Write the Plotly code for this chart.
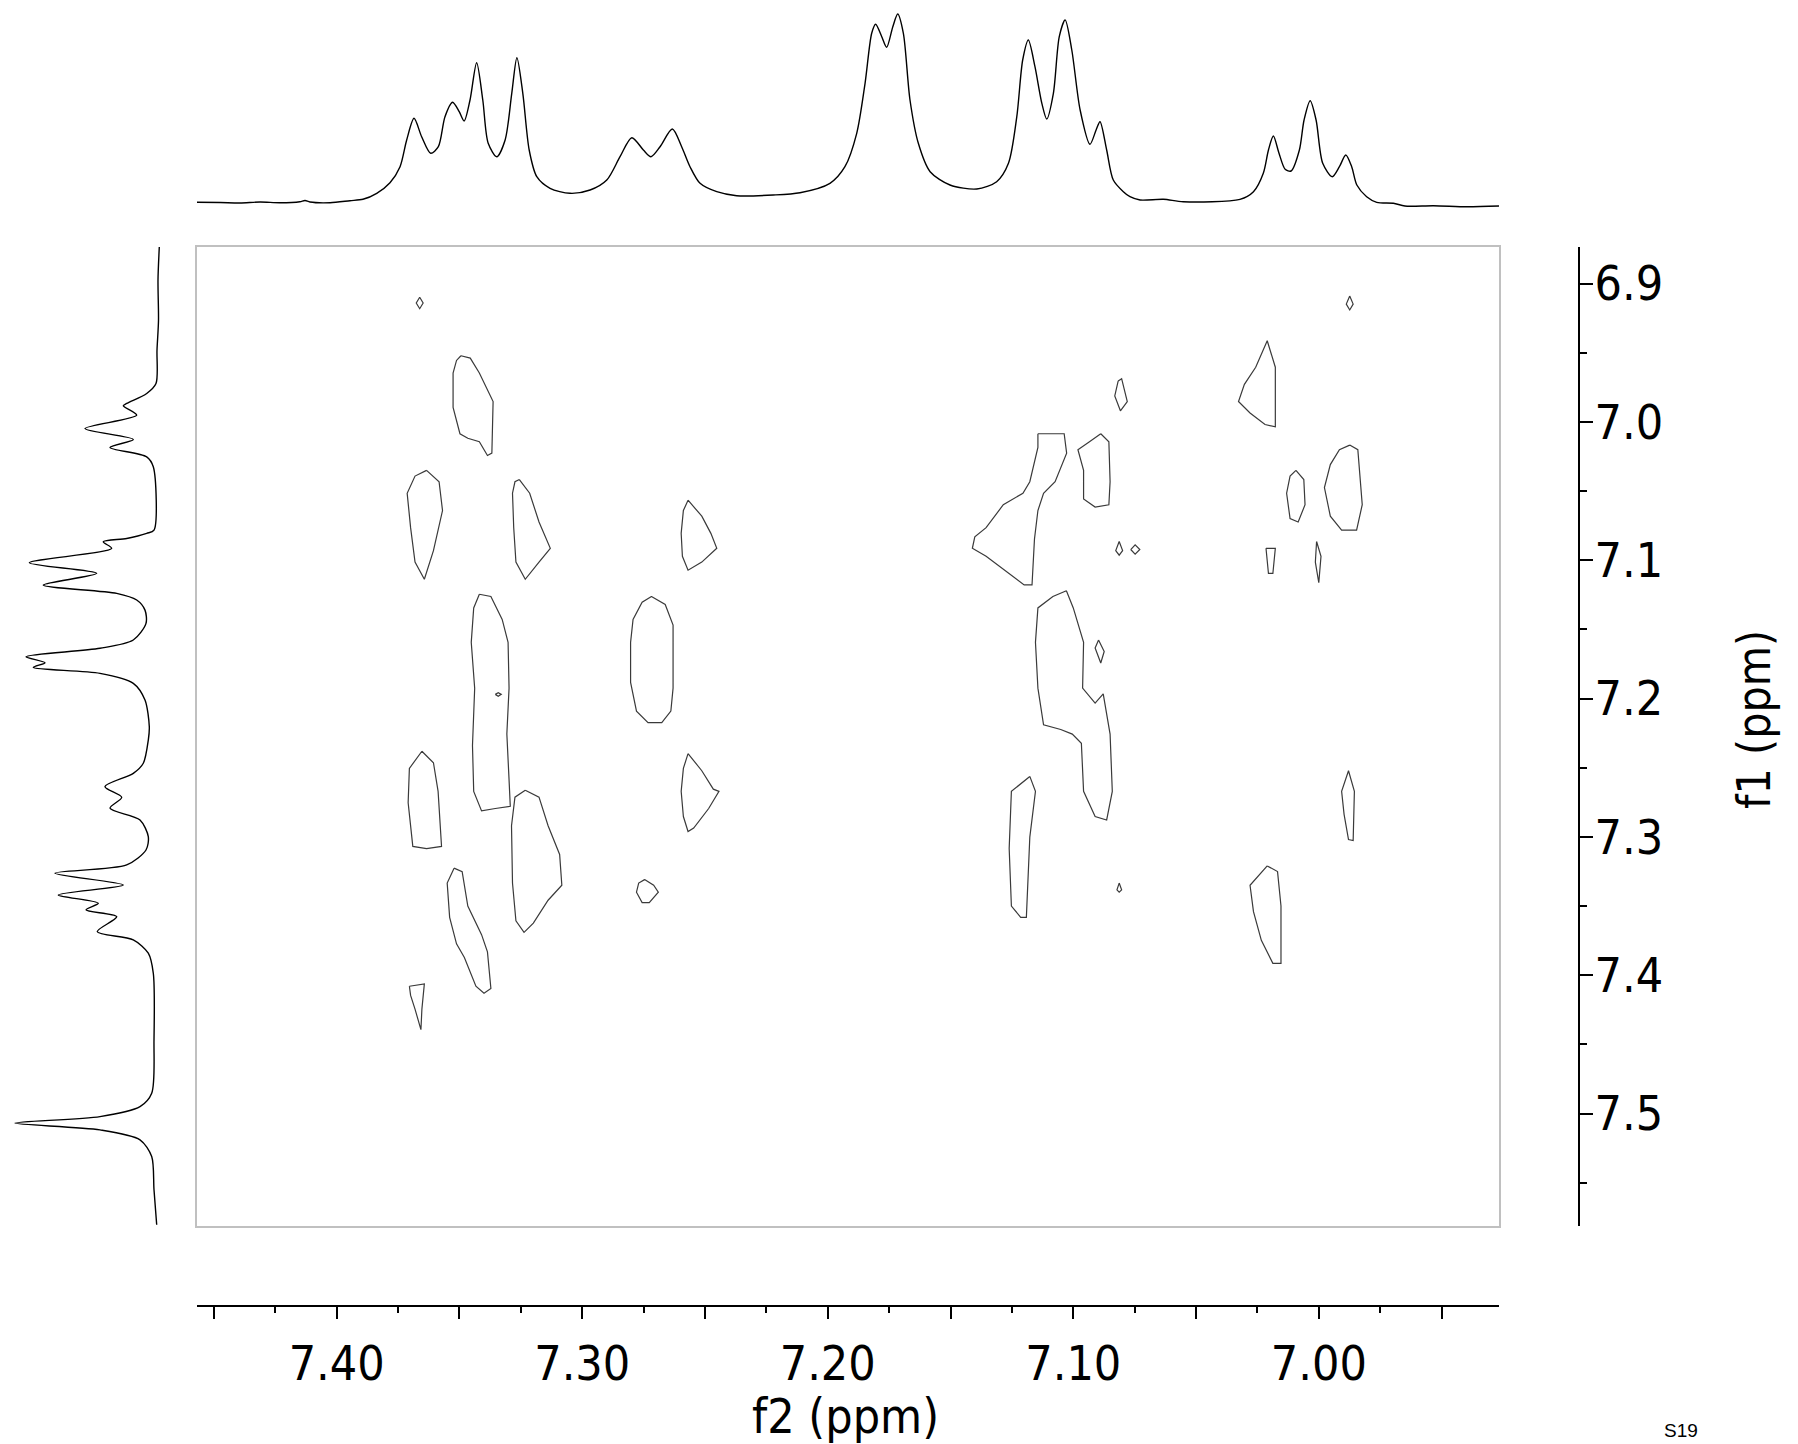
import plotly.graph_objects as go

W, H = 1798, 1444
FONT = "DejaVu Sans Condensed, Liberation Sans Narrow, DejaVu Sans"

# ---------------- data ----------------
# f2 (horizontal) 1D projection: chemical shift (ppm) and intensity (a.u.)
top_ppm = [7.4573, 7.4475, 7.4394, 7.4312, 7.4231, 7.4150, 7.4129, 7.4109, 7.4027, 7.3946,
           7.3893, 7.3837, 7.3783, 7.3742, 7.3715, 7.3685, 7.3654, 7.3617, 7.3586, 7.3559,
           7.3528, 7.3501, 7.3481, 7.3457, 7.3430, 7.3405, 7.3383, 7.3348, 7.3314, 7.3287,
           7.3266, 7.3242, 7.3216, 7.3185, 7.3131, 7.3050, 7.2968, 7.2900, 7.2846, 7.2798,
           7.2751, 7.2720, 7.2683, 7.2633, 7.2595, 7.2561, 7.2520, 7.2452, 7.2371, 7.2222,
           7.2113, 7.1991, 7.1930, 7.1882, 7.1848, 7.1821, 7.1805, 7.1780, 7.1760, 7.1735,
           7.1715, 7.1692, 7.1665, 7.1631, 7.1583, 7.1502, 7.1393, 7.1312, 7.1264, 7.1230,
           7.1206, 7.1183, 7.1156, 7.1128, 7.1108, 7.1081, 7.1057, 7.1033, 7.1006, 7.0972,
           7.0932, 7.0907, 7.0891, 7.0864, 7.0837, 7.0796, 7.0769, 7.0728, 7.0633, 7.0552,
           7.0321, 7.0266, 7.0226, 7.0205, 7.0185, 7.0162, 7.0137, 7.0113, 7.0079, 7.0060,
           7.0035, 7.0011, 6.9984, 6.9945, 6.9916, 6.9890, 6.9866, 6.9845, 6.9805, 6.9764,
           6.9696, 6.9649, 6.9533, 6.9397, 6.9266]
top_int = [7.7, 7.5, 7.0, 8.0, 7.3, 8.3, 9.5, 8.0, 7.3, 9.3,
           10.7, 16.7, 27.3, 43.3, 70, 91.7, 73.3, 56.7, 63.3, 93.3,
           107.7, 98.3, 89, 110, 147.3, 110, 66.7, 53.3, 70, 116.7,
           152.3, 116.7, 60, 33.3, 21.7, 16.7, 20, 30, 53.3, 72.3,
           60, 53.3, 63.3, 81, 63.3, 43.3, 26.7, 18.3, 14.3, 15,
           17.3, 26.7, 43.3, 76.7, 126.7, 176.7, 185.7, 173.3, 162.7, 183.3,
           196, 176.7, 110, 66.7, 38.3, 25, 21, 28.3, 46.7, 93.3,
           150, 170, 143.3, 106.7, 91, 116.7, 173.3, 190, 160, 100,
           65.7, 80, 88.3, 60, 30, 18.3, 13.3, 10, 10.7, 8.3,
           10.7, 18.3, 36.7, 60, 74, 56.7, 40.7, 39, 60, 90,
           109.3, 90, 46.7, 33.3, 43.3, 55, 43.3, 25, 13.3, 7.7,
           6.7, 4.0, 4.3, 3.3, 4]

# f1 (vertical) 1D projection
left_ppm = [6.8736, 6.8976, 6.9265, 6.9482, 6.9723, 6.9795, 6.9867, 6.9884, 6.9952, 7.0048,
            7.0127, 7.0185, 7.0253, 7.0325, 7.0783, 7.0806, 7.0843, 7.0867, 7.0915, 7.1019,
            7.1095, 7.1180, 7.1240, 7.1288, 7.1361, 7.1457, 7.1577, 7.1637, 7.1698, 7.1741,
            7.1775, 7.1818, 7.1890, 7.2011, 7.2204, 7.2300, 7.2468, 7.2541, 7.2637, 7.2714,
            7.2793, 7.2878, 7.2999, 7.3095, 7.3203, 7.3263, 7.3348, 7.3420, 7.3480, 7.3528,
            7.3577, 7.3685, 7.3745, 7.3841, 7.3986, 7.4468, 7.4853, 7.4950, 7.5022, 7.5069,
            7.5118, 7.5190, 7.5311, 7.5551, 7.5804]
left_int = [5.7, 7, 6.5, 8, 9, 18.3, 38.3, 41.7, 28.3, 80,
            31.7, 55, 18.3, 11.7, 11, 18.3, 38.3, 61.7, 53.3, 135.7,
            68.3, 121.7, 48.3, 28.3, 20, 19, 31.7, 65, 139, 120,
            131.7, 65, 31.7, 20, 15.7, 16.7, 21.7, 31.7, 60, 43.3,
            55, 25, 16.7, 19, 38.3, 110, 41.7, 106.7, 66.7, 79,
            48.3, 67.7, 31.7, 16.7, 11.7, 11, 13.3, 25, 65, 150,
            65, 25, 13.3, 11, 8.3]

# 2D contours (f2 ppm, f1 ppm)
c01_f2 = [7.3662, 7.3648, 7.3662, 7.3676]
c01_f1 = [6.9099, 6.9141, 6.9182, 6.9141]
c02_f2 = [6.9874, 6.9860, 6.9874, 6.9888]
c02_f1 = [6.9091, 6.9149, 6.9191, 6.9149]
c03_f2 = [7.3494, 7.3456, 7.3419, 7.3363, 7.3368, 7.3386, 7.3419, 7.3466, 7.3498, 7.3526, 7.3526, 7.3512]
c03_f1 = [6.9522, 6.9539, 6.9647, 6.9853, 7.0226, 7.0243, 7.0144, 7.0119, 7.0086, 6.9895, 6.9647, 6.9556]
c04_f2 = [7.3634, 7.3583, 7.3569, 7.3606, 7.3643, 7.3681, 7.3699, 7.3713, 7.3681]
c04_f1 = [7.0351, 7.0433, 7.0641, 7.0931, 7.1138, 7.1014, 7.0765, 7.0516, 7.0392]
c05_f2 = [7.3256, 7.3214, 7.3176, 7.3130, 7.3176, 7.3232, 7.3270, 7.3279, 7.3284, 7.3274]
c05_f1 = [7.0417, 7.0516, 7.0724, 7.0914, 7.1014, 7.1138, 7.1014, 7.0765, 7.0516, 7.0433]
c06_f2 = [7.2569, 7.2513, 7.2476, 7.2452, 7.2513, 7.2569, 7.2592, 7.2597, 7.2588]
c06_f1 = [7.0566, 7.0682, 7.0806, 7.0914, 7.1014, 7.1072, 7.0972, 7.0806, 7.0641]
c07_f2 = [7.3419, 7.3372, 7.3326, 7.3302, 7.3298, 7.3307, 7.3298, 7.3293, 7.3354, 7.3410, 7.3442, 7.3447, 7.3438, 7.3452, 7.3442]
c07_f1 = [7.1246, 7.1262, 7.1428, 7.1594, 7.1925, 7.2257, 7.2588, 7.2779, 7.2795, 7.2812, 7.2671, 7.2340, 7.1925, 7.1594, 7.1345]
c08_f2 = [7.3354, 7.3342, 7.3330, 7.3342]
c08_f1 = [7.1970, 7.1958, 7.1970, 7.1983]
c09_f2 = [7.2718, 7.2662, 7.2630, 7.2630, 7.2639, 7.2676, 7.2732, 7.2779, 7.2803, 7.2803, 7.2793, 7.2756]
c09_f1 = [7.1262, 7.1320, 7.1469, 7.1925, 7.2091, 7.2174, 7.2174, 7.2091, 7.1884, 7.1594, 7.1428, 7.1304]
c10_f2 = [7.3653, 7.3606, 7.3587, 7.3573, 7.3634, 7.3690, 7.3709, 7.3704]
c10_f1 = [7.2381, 7.2464, 7.2671, 7.3069, 7.3085, 7.3069, 7.2754, 7.2505]
c11_f2 = [7.3232, 7.3176, 7.3139, 7.3092, 7.3083, 7.3139, 7.3199, 7.3237, 7.3270, 7.3284, 7.3288, 7.3274]
c11_f1 = [7.2663, 7.2713, 7.2920, 7.3127, 7.3350, 7.3458, 7.3624, 7.3690, 7.3607, 7.3334, 7.2920, 7.2713]
c12_f2 = [7.2569, 7.2513, 7.2466, 7.2443, 7.2485, 7.2546, 7.2569, 7.2588, 7.2597, 7.2588]
c12_f1 = [7.2398, 7.2522, 7.2655, 7.2671, 7.2795, 7.2936, 7.2961, 7.2853, 7.2671, 7.2505]
c13_f2 = [7.2746, 7.2709, 7.2690, 7.2727, 7.2756, 7.2779, 7.2770]
c13_f1 = [7.3309, 7.3350, 7.3400, 7.3475, 7.3475, 7.3400, 7.3334]
c14_f2 = [7.3522, 7.3489, 7.3466, 7.3410, 7.3386, 7.3372, 7.3400, 7.3433, 7.3480, 7.3512, 7.3540, 7.3550]
c14_f1 = [7.3226, 7.3251, 7.3500, 7.3707, 7.3831, 7.4096, 7.4130, 7.4080, 7.3872, 7.3773, 7.3582, 7.3334]
c15_f2 = [7.3704, 7.3643, 7.3653, 7.3657, 7.3681, 7.3699]
c15_f1 = [7.4080, 7.4063, 7.4245, 7.4394, 7.4245, 7.4146]
c16_f2 = [7.0817, 7.0803, 7.0780, 7.0808, 7.0831]
c16_f1 = [6.9704, 6.9688, 6.9853, 6.9920, 6.9812]
c17_f2 = [7.1144, 7.1037, 7.1027, 7.1074, 7.1121, 7.1144, 7.1158, 7.1168, 7.1200, 7.1261, 7.1355, 7.1411, 7.1401, 7.1355, 7.1285, 7.1205, 7.1177, 7.1144]
c17_f1 = [7.0086, 7.0086, 7.0226, 7.0433, 7.0516, 7.0641, 7.0848, 7.1179, 7.1179, 7.1096, 7.0972, 7.0914, 7.0831, 7.0765, 7.0599, 7.0516, 7.0433, 7.0185]
c18_f2 = [7.0888, 7.0855, 7.0850, 7.0855, 7.0911, 7.0958, 7.0958, 7.0981, 7.0934]
c18_f1 = [7.0086, 7.0144, 7.0433, 7.0599, 7.0616, 7.0558, 7.0351, 7.0201, 7.0144]
c19_f2 = [7.0813, 7.0799, 7.0813, 7.0827]
c19_f1 = [7.0865, 7.0931, 7.0964, 7.0931]
c20_f2 = [7.0766, 7.0748, 7.0729, 7.0748]
c20_f1 = [7.0923, 7.0889, 7.0923, 7.0956]
c21_f2 = [7.1028, 7.1000, 7.0958, 7.0962, 7.0911, 7.0878, 7.0850, 7.0841, 7.0864, 7.0911, 7.0958, 7.0967, 7.1004, 7.1051, 7.1121, 7.1144, 7.1154, 7.1144, 7.1083]
c21_f1 = [7.1221, 7.1345, 7.1594, 7.1925, 7.2033, 7.1967, 7.2257, 7.2671, 7.2878, 7.2853, 7.2671, 7.2323, 7.2257, 7.2224, 7.2190, 7.1925, 7.1594, 7.1345, 7.1262]
c22_f2 = [7.0897, 7.0874, 7.0888, 7.0911]
c22_f1 = [7.1577, 7.1660, 7.1743, 7.1635]
c23_f2 = [7.1177, 7.1154, 7.1177, 7.1191, 7.1214, 7.1252, 7.1261, 7.1252]
c23_f1 = [7.2563, 7.2671, 7.3002, 7.3582, 7.3582, 7.3500, 7.3085, 7.2671]
c24_f2 = [7.0813, 7.0803, 7.0813, 7.0822]
c24_f1 = [7.3334, 7.3383, 7.3400, 7.3383]
c25_f2 = [7.0210, 7.0177, 7.0177, 7.0219, 7.0280, 7.0327, 7.0303, 7.0257]
c25_f1 = [6.9414, 6.9605, 7.0036, 7.0019, 6.9936, 6.9853, 6.9729, 6.9605]
c26_f2 = [7.0093, 7.0061, 7.0056, 7.0084, 7.0117, 7.0131, 7.0117]
c26_f1 = [7.0351, 7.0417, 7.0599, 7.0724, 7.0699, 7.0516, 7.0392]
c27_f2 = [6.9874, 6.9841, 6.9823, 6.9846, 6.9907, 6.9953, 6.9977, 6.9953, 6.9916]
c27_f1 = [7.0168, 7.0201, 7.0599, 7.0782, 7.0782, 7.0682, 7.0475, 7.0309, 7.0201]
c28_f2 = [7.0215, 7.0177, 7.0187, 7.0205]
c28_f1 = [7.0914, 7.0914, 7.1096, 7.1096]
c29_f2 = [7.0009, 6.9991, 7.0000, 7.0014]
c29_f1 = [7.0865, 7.0972, 7.1163, 7.1014]
c30_f2 = [6.9879, 6.9855, 6.9860, 6.9879, 6.9897, 6.9907]
c30_f1 = [7.2522, 7.2671, 7.3027, 7.3019, 7.2837, 7.2671]
c31_f2 = [7.0210, 7.0168, 7.0154, 7.0154, 7.0187, 7.0234, 7.0266, 7.0280]
c31_f1 = [7.3210, 7.3251, 7.3500, 7.3914, 7.3914, 7.3748, 7.3541, 7.3350]

contours = [(c01_f2, c01_f1), (c02_f2, c02_f1), (c03_f2, c03_f1), (c04_f2, c04_f1),
            (c05_f2, c05_f1), (c06_f2, c06_f1), (c07_f2, c07_f1), (c08_f2, c08_f1),
            (c09_f2, c09_f1), (c10_f2, c10_f1), (c11_f2, c11_f1), (c12_f2, c12_f1),
            (c13_f2, c13_f1), (c14_f2, c14_f1), (c15_f2, c15_f1), (c16_f2, c16_f1),
            (c17_f2, c17_f1), (c18_f2, c18_f1), (c19_f2, c19_f1), (c20_f2, c20_f1),
            (c21_f2, c21_f1), (c22_f2, c22_f1), (c23_f2, c23_f1), (c24_f2, c24_f1),
            (c25_f2, c25_f1), (c26_f2, c26_f1), (c27_f2, c27_f1), (c28_f2, c28_f1),
            (c29_f2, c29_f1), (c30_f2, c30_f1), (c31_f2, c31_f1)]

# axis ranges / ticks
f2_range = [7.4569, 6.9266]
f1_range = [7.5813, 6.8736]
f2_major = [7.45, 7.40, 7.35, 7.30, 7.25, 7.20, 7.15, 7.10, 7.05, 7.00, 6.95]
f2_labels = ["", "7.40", "", "7.30", "", "7.20", "", "7.10", "", "7.00", ""]
f2_minor = [7.425, 7.375, 7.325, 7.275, 7.225, 7.175, 7.125, 7.075, 7.025, 6.975, 6.925]
f1_major = [6.9, 7.0, 7.1, 7.2, 7.3, 7.4, 7.5]
f1_labels = ["6.9", "7.0", "7.1", "7.2", "7.3", "7.4", "7.5"]
f1_minor = [6.95, 7.05, 7.15, 7.25, 7.35, 7.45, 7.55]

# ---------------- figure ----------------
def px_x(v):
    return v / W

def px_y(v):
    return 1 - v / H

fig = go.Figure()

for cx, cy in contours:
    fig.add_trace(go.Scatter(x=cx + cx[:1], y=cy + cy[:1], mode="lines",
                             line=dict(color="#3a3a3a", width=1.2),
                             xaxis="x", yaxis="y", hoverinfo="skip", showlegend=False))

# carriers for the overlay axes
fig.add_trace(go.Scatter(x=[None], y=[None], xaxis="x", yaxis="y2", showlegend=False))
fig.add_trace(go.Scatter(x=[None], y=[None], xaxis="x2", yaxis="y", showlegend=False))

fig.add_trace(go.Scatter(x=top_ppm, y=top_int, mode="lines", line=dict(color="black", width=1.4, shape="spline", smoothing=0.8),
                         xaxis="x3", yaxis="y3", showlegend=False, hoverinfo="skip"))
fig.add_trace(go.Scatter(x=left_int, y=left_ppm, mode="lines", line=dict(color="black", width=1.4, shape="spline", smoothing=0.8),
                         xaxis="x4", yaxis="y4", showlegend=False, hoverinfo="skip"))

box_x = [px_x(197), px_x(1499)]
box_y = [px_y(1226), px_y(247)]
hidden = dict(visible=False, showgrid=False, zeroline=False)

fig.update_layout(
    width=W, height=H, margin=dict(l=0, r=0, t=0, b=0),
    paper_bgcolor="white", plot_bgcolor="white", showlegend=False,
    xaxis=dict(domain=box_x, range=f2_range, showgrid=False, zeroline=False, showticklabels=False,
               ticks="", showline=True, linecolor="#c0c0c0", linewidth=2, mirror=True, anchor="y"),
    yaxis=dict(domain=box_y, range=f1_range, showgrid=False, zeroline=False, showticklabels=False,
               ticks="", showline=True, linecolor="#c0c0c0", linewidth=2, mirror=True, anchor="x"),
    yaxis2=dict(overlaying="y", anchor="free", position=px_x(1579), side="right", range=f1_range,
                showgrid=False, zeroline=False, showline=True, linecolor="black", linewidth=2,
                ticks="outside", ticklen=13, tickwidth=2, tickcolor="black",
                tickvals=f1_major, ticktext=f1_labels, ticklabelstandoff=-8,
                tickfont=dict(family=FONT, size=48, color="black"),
                minor=dict(tickvals=f1_minor, ticks="outside", ticklen=7, tickwidth=2, tickcolor="black")),
    xaxis2=dict(overlaying="x", anchor="free", position=px_y(1306), side="bottom", range=f2_range,
                showgrid=False, zeroline=False, showline=True, linecolor="black", linewidth=2,
                ticks="outside", ticklen=12, tickwidth=2, tickcolor="black",
                tickvals=f2_major, ticktext=f2_labels, ticklabelstandoff=3,
                tickfont=dict(family=FONT, size=48, color="black"),
                minor=dict(tickvals=f2_minor, ticks="outside", ticklen=6, tickwidth=2, tickcolor="black")),
    xaxis3=dict(domain=box_x, range=f2_range, anchor="y3", **hidden),
    yaxis3=dict(domain=[px_y(210), 1], range=[0, 210], anchor="x3", **hidden),
    xaxis4=dict(domain=[0, px_x(165)], range=[165, 0], anchor="y4", **hidden),
    yaxis4=dict(domain=box_y, range=f1_range, anchor="x4", **hidden),
    annotations=[
        dict(text="f2 (ppm)", x=px_x(845), y=px_y(1416), xref="paper", yref="paper",
             showarrow=False, font=dict(family=FONT, size=48, color="black"),
             xanchor="center", yanchor="middle"),
        dict(text="f1 (ppm)", x=px_x(1754), y=px_y(720), xref="paper", yref="paper",
             showarrow=False, textangle=-90, font=dict(family=FONT, size=46, color="black"),
             xanchor="center", yanchor="middle"),
        dict(text="S19", x=px_x(1681), y=px_y(1430), xref="paper", yref="paper",
             showarrow=False, font=dict(family="Liberation Sans, Arial", size=19, color="black"),
             xanchor="center", yanchor="middle"),
    ],
)

fig.write_html("out.html")
